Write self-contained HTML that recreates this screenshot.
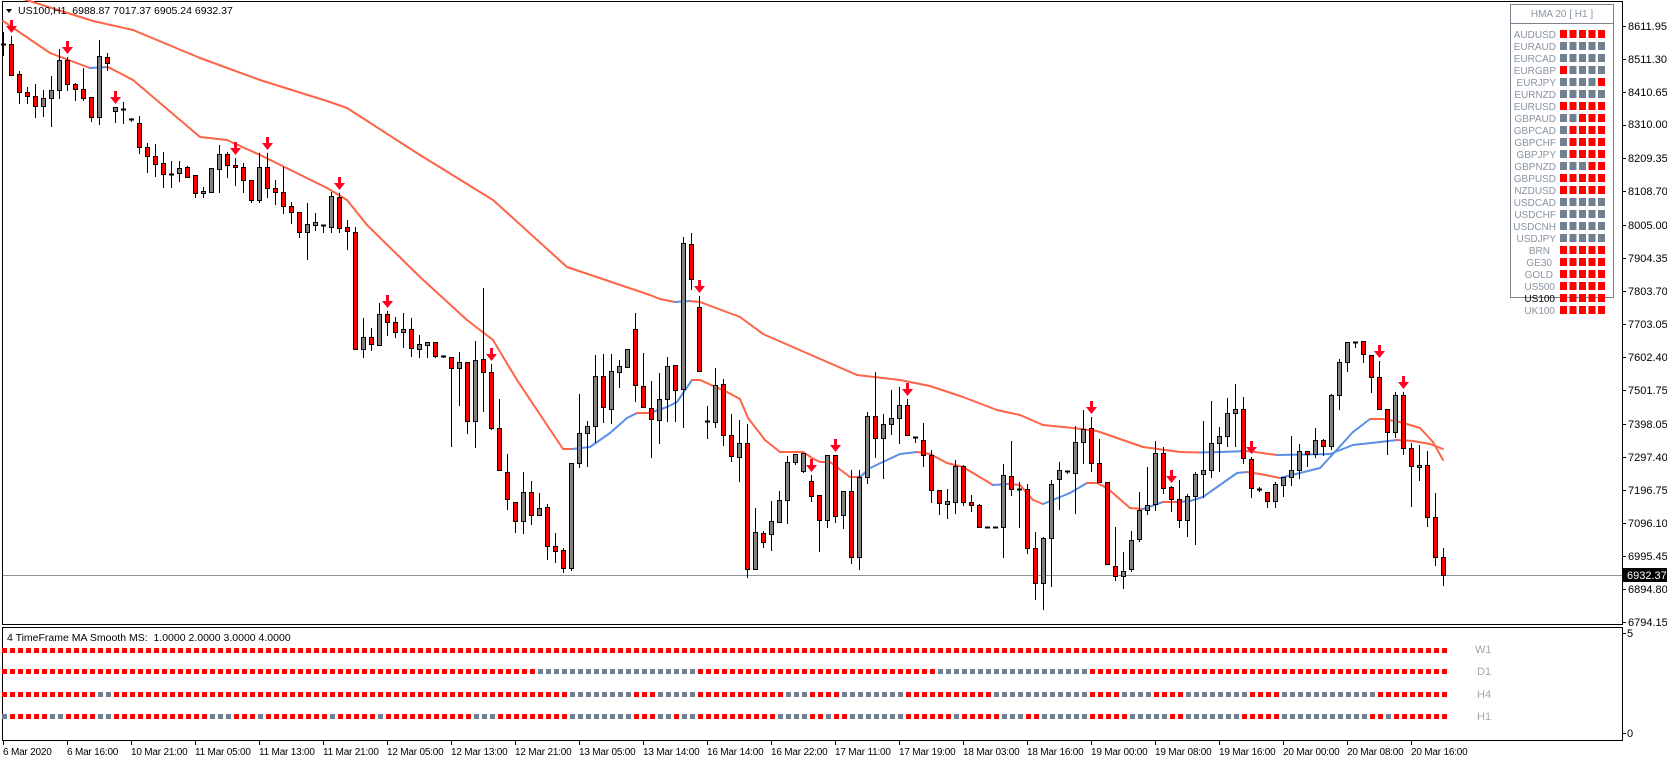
<!DOCTYPE html>
<html><head><meta charset="utf-8">
<style>
html,body{margin:0;padding:0;background:#fff;}
svg{display:block;font-family:"Liberation Sans",sans-serif;font-size:11px;}
</style></head><body>
<svg id="s" width="1667" height="761" xmlns="http://www.w3.org/2000/svg">
<rect x="0" y="0" width="1667" height="761" fill="#fff"/>
<!-- borders -->
<rect x="2.5" y="1.5" width="1620" height="623" fill="none" stroke="#000" stroke-width="1"/>
<rect x="2.5" y="627.5" width="1620" height="113" fill="none" stroke="#000" stroke-width="1"/>
<line x1="3" y1="575.5" x2="1622" y2="575.5" stroke="#8a949c" stroke-width="1"/>
<g id="ma"></g>
<g id="c"></g>
<g id="ind"></g>
<!-- title -->
<polygon points="6,9 12,9 9,13" fill="#000"/>
<text x="18" y="14" fill="#000" font-size="10.5">US100,H1&#160;&#160;6988.87 7017.37 6905.24 6932.37</text>
<text x="7" y="641" fill="#000" font-size="10.5">4 TimeFrame MA Smooth MS:&#160;&#160;1.0000 2.0000 3.0000 4.0000</text>
<g fill="#a0a8b0" font-size="11">
<text x="1475" y="653">W1</text>
<text x="1477" y="675">D1</text>
<text x="1477" y="698">H4</text>
<text x="1477" y="720">H1</text>
</g>
<!-- price axis -->
<g fill="#000" font-size="11">
<text x="1628" y="30">8611.95</text>
<text x="1628" y="63">8511.30</text>
<text x="1628" y="96">8410.65</text>
<text x="1628" y="128">8310.00</text>
<text x="1628" y="162">8209.35</text>
<text x="1628" y="195">8108.70</text>
<text x="1628" y="229">8005.00</text>
<text x="1628" y="262">7904.35</text>
<text x="1628" y="295">7803.70</text>
<text x="1628" y="328">7703.05</text>
<text x="1628" y="361">7602.40</text>
<text x="1628" y="394">7501.75</text>
<text x="1628" y="428">7398.05</text>
<text x="1628" y="461">7297.40</text>
<text x="1628" y="494">7196.75</text>
<text x="1628" y="527">7096.10</text>
<text x="1628" y="560">6995.45</text>
<text x="1628" y="593">6894.80</text>
<text x="1628" y="626">6794.15</text>
<text x="1627" y="637">5</text>
<text x="1627" y="737">0</text>
</g>
<g stroke="#000" id="ticks"></g>
<rect x="1623" y="568" width="44" height="14" fill="#000"/>
<text x="1627" y="579" fill="#fff">6932.37</text>
<!-- time axis -->
<g fill="#000" font-size="10" letter-spacing="-0.2">
<text x="3" y="755">6 Mar 2020</text>
<text x="67" y="755">6 Mar 16:00</text>
<text x="131" y="755">10 Mar 21:00</text>
<text x="195" y="755">11 Mar 05:00</text>
<text x="259" y="755">11 Mar 13:00</text>
<text x="323" y="755">11 Mar 21:00</text>
<text x="387" y="755">12 Mar 05:00</text>
<text x="451" y="755">12 Mar 13:00</text>
<text x="515" y="755">12 Mar 21:00</text>
<text x="579" y="755">13 Mar 05:00</text>
<text x="643" y="755">13 Mar 14:00</text>
<text x="707" y="755">16 Mar 14:00</text>
<text x="771" y="755">16 Mar 22:00</text>
<text x="835" y="755">17 Mar 11:00</text>
<text x="899" y="755">17 Mar 19:00</text>
<text x="963" y="755">18 Mar 03:00</text>
<text x="1027" y="755">18 Mar 16:00</text>
<text x="1091" y="755">19 Mar 00:00</text>
<text x="1155" y="755">19 Mar 08:00</text>
<text x="1219" y="755">19 Mar 16:00</text>
<text x="1283" y="755">20 Mar 00:00</text>
<text x="1347" y="755">20 Mar 08:00</text>
<text x="1411" y="755">20 Mar 16:00</text>
</g>
<!-- panel -->
<rect x="1510.5" y="4.5" width="103" height="293" fill="#fff" stroke="#7a8590" stroke-width="1"/>
<line x1="1511" y1="23.5" x2="1613" y2="23.5" stroke="#7a8590"/>
<text x="1562" y="17" fill="#8a94a0" text-anchor="middle" font-size="10">HMA 20 [ H1 ]</text>
<g fill="#8a94a0" text-anchor="end" font-size="10">
<text x="1556" y="38">AUDUSD</text>
<text x="1556" y="50">EURAUD</text>
<text x="1556" y="62">EURCAD</text>
<text x="1556" y="74">EURGBP</text>
<text x="1556" y="86">EURJPY</text>
<text x="1556" y="98">EURNZD</text>
<text x="1556" y="110">EURUSD</text>
<text x="1556" y="122">GBPAUD</text>
<text x="1556" y="134">GBPCAD</text>
<text x="1556" y="146">GBPCHF</text>
<text x="1556" y="158">GBPJPY</text>
<text x="1556" y="170">GBPNZD</text>
<text x="1556" y="182">GBPUSD</text>
<text x="1556" y="194">NZDUSD</text>
<text x="1556" y="206">USDCAD</text>
<text x="1556" y="218">USDCHF</text>
<text x="1556" y="230">USDCNH</text>
<text x="1556" y="242">USDJPY</text>
<text x="1550" y="254">BRN</text>
<text x="1552" y="266">GE30</text>
<text x="1553" y="278">GOLD</text>
<text x="1555" y="290">US500</text>
<text x="1555" y="302" fill="#000">US100</text>
<text x="1555" y="314">UK100</text>
</g>
<g id="pan"></g>
</svg>
<script>
var NS="http://www.w3.org/2000/svg";
function el(p,t,a){var e=document.createElementNS(NS,t);for(var k in a)e.setAttribute(k,a[k]);p.appendChild(e);return e;}
var tk=document.getElementById('ticks');
[26,59,92,125,158,191,225,258,291,324,357,390,424,457,490,523,556,589,622,633,733].forEach(function(y){el(tk,'line',{x1:1622,y1:y+.5,x2:1626,y2:y+.5});});
for(var k=0;k<23;k++){var x=3+64*k+.5;el(tk,'line',{x1:x,y1:741,x2:x,y2:745});}
function drawMA(pts){var g=document.getElementById('ma');
 for(var i=0;i<pts.length-1;i++){var a=pts[i],b=pts[i+1];
  var col=(b[1]<a[1])?'#5b8fe6':'#ff6347';
  el(g,'line',{x1:a[0],y1:a[1],x2:b[0],y2:b[1],stroke:col,'stroke-width':2,'stroke-linecap':'round'});}}
drawMA([[0,-4],[20,-2],[93,21],[133,30],[200,58],[260,80],[330,102],[347,108],[420,155],[493,200],[567,267],[650,295],[660,299],[675,302],[690,301],[700,302],[740,317],[763,334],[857,375],[900,380],[930,386],[963,397],[997,410],[1020,415],[1043,425],[1073,428],[1097,431],[1117,438],[1143,447],[1180,452],[1200,452.5],[1220,452],[1247,451],[1277,455],[1330,454],[1353,445],[1380,442],[1397,440],[1413,441],[1430,444],[1443,449]]);
drawMA([[3,21],[50,53],[90,68],[107,67],[110,68],[133,80],[200,137],[227,140],[260,155],[327,188],[347,200],[367,225],[420,277],[467,320],[493,340],[517,380],[563,449],[572,449],[590,447],[610,433],[627,418],[637,413],[650,413],[667,407],[677,402],[692,380],[700,380],[727,392],[740,399],[748,418],[765,440],[780,452],[803,452],[812,458],[820,462],[830,462],[850,477],[860,477],[870,468],[900,454],[917,452],[930,454],[947,463],[963,467],[993,485],[1008,484],[1020,485],[1033,500],[1043,504],[1070,493],[1087,483],[1097,483],[1107,488],[1130,508],[1143,509],[1163,502],[1177,502],[1190,501],[1203,497],[1220,485],[1237,473],[1247,472],[1260,474],[1280,478],[1300,473],[1320,468],[1333,454],[1353,432],[1370,419],[1383,419],[1400,422],[1420,428],[1433,442],[1443,460]]);
var C=[[44,44,32,55,'d'],[44,75,36,75,'r'],[74,92,71,103,'r'],[92,96,87,103,'r'],[96,106,84,117,'r'],[98,106,90,116,'g'],[90,98,76,126,'g'],[60,90,49,98,'g'],[60,84,57,90,'r'],[84,89,83,100,'r'],[89,98,68,100,'r'],[97,117,97,121,'r'],[56,117,40,124,'g'],[57,63,53,70,'r'],[107,111,107,122,'g'],[109,109,102,123,'d'],[119,119,118,121,'d'],[123,147,116,153,'r'],[147,156,143,172,'r'],[156,164,144,176,'r'],[163,174,152,187,'r'],[174,174,161,187,'d'],[168,173,161,181,'g'],[167,177,166,177,'r'],[175,193,175,197,'r'],[191,193,187,197,'g'],[168,192,168,192,'g'],[154,169,145,192,'g'],[154,165,152,177,'r'],[165,167,158,185,'r'],[167,180,163,192,'r'],[180,200,180,202,'r'],[167,200,153,202,'g'],[167,188,153,197,'r'],[188,192,180,204,'r'],[192,206,167,213,'r'],[206,212,202,223,'r'],[212,232,212,237,'r'],[224,232,203,259,'g'],[222,225,213,230,'g'],[225,225,225,232,'d'],[196,227,192,232,'g'],[197,228,193,232,'r'],[227,231,220,249,'r'],[232,349,227,349,'r'],[337,349,318,357,'g'],[337,344,328,350,'r'],[314,345,303,345,'g'],[314,322,311,335,'r'],[322,332,317,337,'r'],[329,332,313,347,'g'],[329,348,318,356,'r'],[344,349,335,357,'g'],[342,345,342,357,'g'],[342,356,342,357,'r'],[356,356,355,357,'d'],[357,368,357,446,'r'],[362,368,352,405,'g'],[362,421,362,433,'r'],[360,421,341,447,'g'],[359,372,288,411,'r'],[372,428,364,429,'r'],[428,470,399,470,'r'],[472,499,454,509,'r'],[502,521,502,532,'r'],[492,521,472,533,'g'],[492,515,481,524,'r'],[508,515,493,515,'g'],[507,546,504,559,'r'],[546,551,533,562,'r'],[550,568,548,572,'r'],[463,568,463,570,'g'],[433,463,394,467,'g'],[426,433,421,466,'g'],[376,426,355,442,'g'],[376,407,354,422,'r'],[371,409,354,423,'g'],[366,372,360,387,'g'],[349,367,349,367,'g'],[329,385,313,401,'r'],[386,407,353,407,'r'],[408,419,381,457,'r'],[399,420,373,443,'g'],[366,399,357,421,'g'],[365,390,365,421,'r'],[243,389,237,427,'g'],[244,279,233,289,'r'],[307,371,296,371,'r'],[421,421,406,438,'d'],[385,422,368,427,'g'],[384,435,379,445,'r'],[435,456,414,461,'r'],[443,457,420,481,'g'],[443,569,424,577,'r'],[532,569,508,569,'g'],[533,542,531,547,'r'],[521,534,501,550,'g'],[500,522,491,522,'g'],[462,500,456,523,'g'],[454,462,454,464,'g'],[453,471,453,472,'g'],[481,496,475,501,'r'],[495,520,495,551,'r'],[455,520,455,527,'g'],[455,516,455,522,'r'],[491,515,491,528,'g'],[491,557,470,563,'r'],[477,557,470,569,'g'],[416,477,412,483,'g'],[416,438,372,457,'r'],[424,438,414,478,'g'],[418,424,390,434,'g'],[405,418,387,443,'g'],[405,435,399,435,'r'],[437,437,437,442,'d'],[440,455,423,466,'r'],[455,490,450,502,'r'],[490,503,490,514,'r'],[501,504,489,518,'g'],[466,502,460,513,'g'],[466,502,465,505,'r'],[502,505,495,511,'r'],[505,527,504,527,'r'],[527,527,527,527,'d'],[527,527,527,527,'d'],[475,527,464,557,'g'],[476,489,441,495,'r'],[489,489,482,527,'d'],[489,548,484,553,'r'],[548,583,532,599,'r'],[538,583,537,609,'g'],[484,538,480,586,'g'],[470,479,462,509,'g'],[471,471,471,473,'d'],[442,473,426,513,'g'],[429,442,410,463,'g'],[428,463,417,471,'r'],[463,482,439,482,'r'],[482,564,482,564,'r'],[566,576,527,580,'r'],[571,576,552,588,'g'],[540,569,531,571,'g'],[510,539,492,541,'g'],[505,510,467,514,'g'],[453,504,441,510,'g'],[453,488,447,493,'r'],[487,499,486,511,'r'],[499,520,480,527,'r'],[496,520,494,536,'g'],[474,496,472,544,'g'],[470,474,421,497,'g'],[443,470,401,477,'g'],[436,443,427,471,'g'],[413,436,398,446,'g'],[409,413,384,446,'g'],[409,458,397,463,'r'],[459,488,457,497,'r'],[489,489,487,491,'d'],[492,501,492,507,'r'],[484,501,482,507,'g'],[477,485,477,496,'g'],[470,477,436,485,'g'],[451,470,444,478,'g'],[451,454,451,466,'r'],[440,454,428,457,'g'],[440,446,439,455,'r'],[395,446,394,449,'g'],[362,395,359,409,'g'],[342,362,342,371,'g'],[342,342,342,347,'d'],[341,354,341,362,'r'],[355,377,355,392,'r'],[377,409,361,409,'r'],[409,432,409,454,'r'],[395,432,392,437,'g'],[395,448,392,454,'r'],[448,466,443,506,'r'],[465,467,445,480,'g'],[465,517,451,526,'r'],[517,557,493,565,'r'],[557,575,548,585,'r']];
var cg=document.getElementById('c');
C.forEach(function(c,i){var x=3+8*i;
 el(cg,'line',{x1:x+.5,y1:c[2],x2:x+.5,y2:c[3]+1,stroke:'#000','stroke-width':1});
 if(c[4]=='d'){el(cg,'line',{x1:x-2,y1:c[0]+.5,x2:x+3,y2:c[0]+.5,stroke:'#000','stroke-width':2});}
 else{var h=Math.max(c[1]-c[0],2);el(cg,'rect',{x:x-1.5,y:c[0]+.5,width:4,height:h,fill:c[4]=='r'?'#ff0000':'#808080',stroke:'#000','stroke-width':1});}
});
[1,8,14,29,33,42,48,61,87,101,104,113,136,146,156,172,175].forEach(function(i){
 var x=3+8*i+.5, t=C[i][2]-3;
 el(cg,'path',{d:'M'+(x-1.5)+' '+(t-13)+'h3v6h4l-5.5 7l-5.5-7h4z',fill:'#ff0020'});
});
function runs(arr){var out=[];arr.forEach(function(r){for(var j=r[0];j<=r[1];j++)out[j]=r[2];});return out;}
var R='#ff0000',G='#708090';
var rows=[
 runs([[0,180,R]]),
 runs([[0,66,R],[67,86,G],[87,116,R],[117,135,G],[136,180,R]]),
 runs([[0,11,R],[12,13,G],[14,70,R],[71,78,G],[79,81,R],[82,86,G],[87,97,R],[98,100,G],[101,104,R],[105,112,G],[113,123,R],[124,135,G],[136,139,R],[140,143,G],[144,147,R],[148,155,G],[156,159,R],[160,171,G],[172,180,R]]),
 runs([[0,0,G],[1,5,R],[6,7,G],[8,11,R],[12,13,G],[14,25,R],[26,28,G],[29,31,R],[32,32,G],[33,40,R],[41,41,G],[42,46,R],[47,47,G],[48,58,R],[59,61,G],[62,70,R],[71,78,G],[79,81,R],[82,83,G],[84,84,R],[85,86,G],[87,96,R],[97,100,G],[101,102,R],[103,103,G],[104,105,R],[106,112,G],[113,118,R],[119,119,G],[120,124,R],[125,127,G],[128,129,R],[130,135,G],[136,140,R],[141,145,G],[146,147,R],[148,154,G],[155,159,R],[160,170,G],[171,172,R],[173,173,G],[174,180,R]])
];
var ys=[648,669,692,714];
var ig=document.getElementById('ind');
rows.forEach(function(r,k){for(var j=0;j<181;j++){el(ig,'rect',{x:2+8*j,y:ys[k],width:5,height:5,fill:r[j]});}});
var P=['RRRRR','GGGGG','GGGGG','RGGGG','GGGGR','GGGGG','RRRRR','GGRRR','GRRRR','GRRRR','GRRRR','GGGRR','RRRRR','RRRRR','GGGGG','GGGGG','GGGGG','GGGGG','RRRRR','RRRRR','RRRRR','RRRRR','RRRRR','RRRRR'];
var pg=document.getElementById('pan');
P.forEach(function(s,r){for(var q=0;q<5;q++){el(pg,'rect',{x:1560+9.5*q,y:30+12*r,width:7,height:8,fill:s[q]=='R'?R:G});}});
</script>
</body></html>
